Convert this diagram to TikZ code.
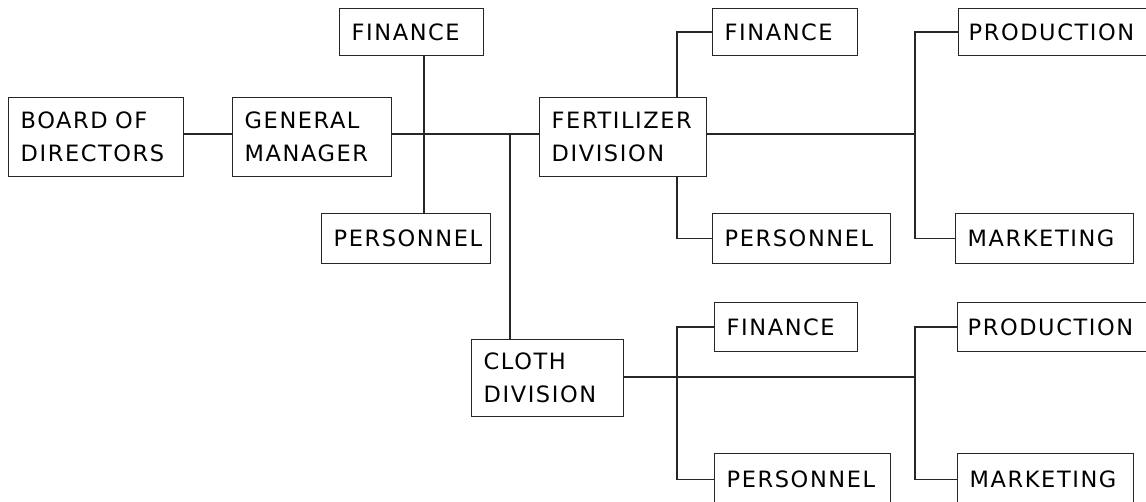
\documentclass[tikz,border=0pt]{standalone}
\usepackage{fontspec}
\setmainfont{DejaVu Sans}[LetterSpace=7]
\begin{document}
\begin{tikzpicture}[x=1pt,y=-1pt,
  box/.style={draw=black!85, line width=1.4pt, anchor=north west,
    inner xsep=12pt, inner ysep=0pt, align=left,
    font=\fontsize{22.5}{33}\selectfont},
  link/.style={draw=black!85, line width=1.4pt}]
\useasboundingbox (0,0) rectangle (1146,502);
\clip (0,0) rectangle (1146,502);

% top level
\node[box, text width=151pt, minimum height=79pt] (board) at (8,97) {BOARD OF\\DIRECTORS};
\node[box, text width=135pt, minimum height=79pt] (gm) at (232,97) {GENERAL\\MANAGER};
\node[box, text width=120pt, minimum height=47pt] (fin0) at (339,8) {FINANCE};
\node[box, text width=145pt, minimum height=50pt] (per0) at (321,213) {PERSONNEL};

% fertilizer division
\node[box, text width=143pt, minimum height=79pt] (fert) at (539,97) {FERTILIZER\\DIVISION};
\node[box, text width=121pt, minimum height=47pt] (fin1) at (712,8) {FINANCE};
\node[box, text width=154pt, minimum height=50pt] (per1) at (712,213) {PERSONNEL};
\node[box, text width=186pt, minimum height=47pt, inner xsep=10pt] (prod1) at (958,8) {PRODUCTION};
\node[box, text width=154pt, minimum height=50pt] (mkt1) at (955,213) {MARKETING};

% cloth division
\node[box, text width=128pt, minimum height=77pt] (cloth) at (471,339) {CLOTH\\DIVISION};
\node[box, text width=119pt, minimum height=49pt] (fin2) at (714,302) {FINANCE};
\node[box, text width=152pt, minimum height=52pt] (per2) at (714,453) {PERSONNEL};
\node[box, text width=186pt, minimum height=49pt, inner xsep=10pt] (prod2) at (957,302) {PRODUCTION};
\node[box, text width=152pt, minimum height=52pt] (mkt2) at (957,453) {MARKETING};

% junction points
\coordinate (spine) at (0,134);
\coordinate (j0) at (424,134);
\coordinate (j1) at (510,134);
\coordinate (j2) at (677,134);
\coordinate (j3) at (915,134);
\coordinate (k1) at (677,377);
\coordinate (k2) at (915,377);

% connectors
\draw[link] (board.east |- spine) -- (gm.west |- spine);
\draw[link] (gm.east |- spine) -- (fert.west |- spine);
\draw[link] (fin0.south -| j0) -- (per0.north -| j0);
\draw[link] (j1) -- (j1 |- cloth.north);
\draw[link] (fin1.west) -| (fert.north -| j2);
\draw[link] (per1.west) -| (fert.south -| j2);
\draw[link] (fert.east |- spine) -- (j3);
\draw[link] (prod1.west) -| (j3) |- (mkt1.west);
\draw[link] (cloth.east |- k2) -- (k2);
\draw[link] (fin2.west) -| (k1) |- (per2.west);
\draw[link] (prod2.west) -| (k2) |- (mkt2.west);
\end{tikzpicture}
\end{document}
